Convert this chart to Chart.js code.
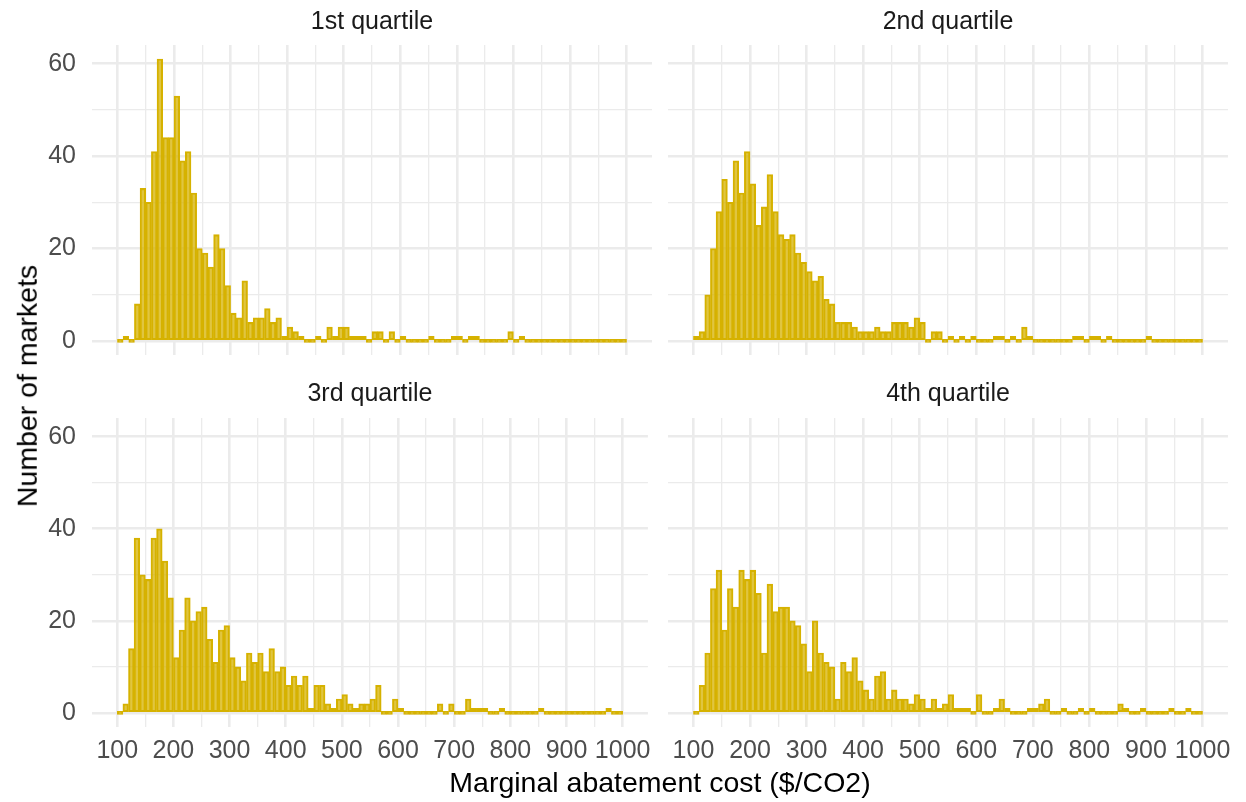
<!DOCTYPE html>
<html>
<head>
<meta charset="utf-8">
<title>Marginal abatement cost by quartile</title>
<script src="https://cdn.jsdelivr.net/npm/chart.js@4.4.0/dist/chart.umd.min.js"></script>
<style>
  html, body { margin: 0; padding: 0; background: #ffffff; }
  #wrap { position: relative; width: 1246px; height: 802px; overflow: hidden; font-family: "Liberation Sans", Arial, sans-serif; }
  canvas { position: absolute; }
  .axis-title { position: absolute; font-size: 28.5px; line-height: 1; color: #000000; white-space: nowrap; }
  #xTitle { left: 660px; top: 782px; transform: translate(-50%, -50%); }
  #yTitle { left: 27px; top: 386px; transform: translate(-50%, -50%) rotate(-90deg); }
</style>
</head>
<body>
<div id="wrap">
  <canvas id="q1" width="660" height="386" style="left:0px;top:0px"></canvas>
  <canvas id="q2" width="586" height="386" style="left:660px;top:0px"></canvas>
  <canvas id="q3" width="660" height="432" style="left:0px;top:370px"></canvas>
  <canvas id="q4" width="586" height="432" style="left:660px;top:370px"></canvas>
  <div class="axis-title" id="xTitle">Marginal abatement cost ($/CO2)</div>
  <div class="axis-title" id="yTitle">Number of markets</div>
</div>
<script>
// Histogrammes : nombre de marchés par classe de coût (largeur 10, de 100 à 1000)
const binStart = 100;
const binWidth = 10;

const panelTitles = ['1st quartile', '2nd quartile', '3rd quartile', '4th quartile'];

const countsQ1 = [
  0, 1, 0, 8, 33, 30, 41, 61, 44, 44,
  53, 39, 41, 32, 20, 19, 16, 23, 20, 12,
  6, 5, 13, 4, 5, 5, 7, 4, 5, 1,
  3, 2, 1, 0, 0, 1, 0, 3, 1, 3,
  3, 1, 1, 1, 0, 2, 2, 0, 2, 0,
  1, 0, 0, 0, 0, 1, 0, 0, 0, 1,
  1, 0, 1, 1, 0, 0, 0, 0, 0, 2,
  0, 1, 0, 0, 0, 0, 0, 0, 0, 0,
  0, 0, 0, 0, 0, 0, 0, 0, 0, 0
];

const countsQ2 = [
  1, 2, 10, 20, 28, 35, 30, 39, 32, 41,
  34, 25, 29, 36, 28, 23, 22, 23, 19, 17,
  15, 13, 14, 9, 8, 4, 4, 4, 3, 2,
  2, 2, 3, 2, 2, 4, 4, 4, 3, 5,
  4, 0, 2, 2, 0, 1, 0, 1, 0, 1,
  0, 0, 0, 1, 1, 0, 1, 0, 3, 1,
  0, 0, 0, 0, 0, 0, 0, 1, 1, 0,
  1, 1, 0, 1, 0, 0, 0, 0, 0, 0,
  1, 0, 0, 0, 0, 0, 0, 0, 0, 0
];

const countsQ3 = [
  0, 2, 14, 38, 30, 29, 38, 40, 33, 25,
  12, 18, 25, 20, 22, 23, 16, 11, 18, 19,
  12, 10, 7, 13, 11, 13, 9, 14, 9, 10,
  6, 8, 6, 8, 1, 6, 6, 2, 1, 3,
  4, 2, 1, 2, 2, 3, 6, 0, 0, 3,
  1, 0, 0, 0, 0, 0, 0, 2, 0, 2,
  0, 0, 3, 1, 1, 1, 0, 0, 1, 0,
  0, 0, 0, 0, 0, 1, 0, 0, 0, 0,
  0, 0, 0, 0, 0, 0, 0, 1, 0, 0
];

const countsQ4 = [
  0, 6, 13, 27, 31, 18, 27, 23, 31, 29,
  31, 26, 13, 28, 22, 23, 23, 20, 19, 15,
  9, 20, 13, 11, 10, 3, 11, 9, 12, 7,
  5, 3, 8, 9, 3, 5, 3, 3, 2, 4,
  3, 1, 3, 1, 2, 4, 1, 1, 1, 0,
  4, 0, 0, 1, 3, 1, 0, 0, 0, 1,
  1, 2, 3, 0, 0, 1, 0, 0, 1, 0,
  1, 0, 0, 0, 0, 2, 1, 0, 0, 1,
  0, 0, 0, 0, 1, 0, 0, 1, 0, 0
];

// Graduations et grilles
const xGrid = [100, 150, 200, 250, 300, 350, 400, 450, 500, 550, 600, 650, 700, 750, 800, 850, 900, 950, 1000];
const xLabelStep = 100;
const yGrid = [0, 10, 20, 30, 40, 50, 60];
const yLabelStep = 20;
const xRange = [55, 1045];
const yRange = [-3.05, 64.05];

const FONT = '"Liberation Sans", Arial, sans-serif';
const GRID_COLOR = '#EBEBEB';
const BAR_LINE = 'rgb(214, 178, 0)';
const BAR_FILL = 'rgba(214, 178, 0, 0.75)';

Chart.defaults.font.family = FONT;

function makePanel(canvasId, title, counts, cfg) {
  const ctx = document.getElementById(canvasId).getContext('2d');
  const points = counts.map((c, i) => ({ x: binStart + binWidth * (i + 0.5), y: c }));

  return new Chart(ctx, {
    type: 'bar',
    data: {
      datasets: [{
        data: points,
        backgroundColor: BAR_FILL,
        borderColor: BAR_LINE,
        borderWidth: 1.4,
        borderSkipped: false,
        barPercentage: 1,
        categoryPercentage: 1,
        minBarLength: 3
      }]
    },
    options: {
      responsive: false,
      animation: false,
      devicePixelRatio: 1,
      layout: { padding: cfg.padding },
      plugins: {
        legend: { display: false },
        tooltip: { enabled: false },
        title: {
          display: true,
          text: title,
          fullSize: false,
          color: '#1A1A1A',
          font: { family: FONT, size: 25, weight: 'normal', lineHeight: 1.2 },
          padding: cfg.titlePadding
        }
      },
      scales: {
        x: {
          type: 'linear',
          min: xRange[0],
          max: xRange[1],
          bounds: 'data',
          offset: false,
          afterBuildTicks: function(axis) {
            axis.ticks = xGrid.map(v => ({ value: v }));
          },
          afterFit: function(axis) {
            axis.height = cfg.xHeight;
          },
          grid: {
            offset: false,
            drawTicks: false,
            color: GRID_COLOR,
            lineWidth: c => (c.tick && c.tick.value % xLabelStep === 0) ? 2.6 : 1.3
          },
          border: { display: false },
          ticks: {
            display: cfg.showX,
            autoSkip: false,
            maxRotation: 0,
            minRotation: 0,
            padding: 9,
            color: '#4D4D4D',
            font: { family: FONT, size: 25, lineHeight: 1.2 },
            callback: v => (v % xLabelStep === 0) ? String(v) : ''
          }
        },
        y: {
          type: 'linear',
          min: yRange[0],
          max: yRange[1],
          bounds: 'data',
          afterBuildTicks: function(axis) {
            axis.ticks = yGrid.map(v => ({ value: v }));
          },
          afterFit: function(axis) {
            axis.width = cfg.yWidth;
          },
          grid: {
            drawTicks: false,
            color: GRID_COLOR,
            lineWidth: c => (c.tick && c.tick.value % yLabelStep === 0) ? 2.6 : 1.3
          },
          border: { display: false },
          ticks: {
            display: cfg.showY,
            autoSkip: false,
            padding: 16,
            color: '#4D4D4D',
            font: { family: FONT, size: 25, lineHeight: 1.2 },
            callback: v => (v % yLabelStep === 0) ? String(v) : ''
          }
        }
      }
    }
  });
}

document.addEventListener('DOMContentLoaded', function() {
  // Rangée du haut : pas d'étiquettes en x (marge basse pour le libellé "0")
  makePanel('q1', panelTitles[0], countsQ1, {
    padding: { left: 0, right: 8, top: 0, bottom: 31 },
    titlePadding: { top: 7, bottom: 8 },
    xHeight: 0, yWidth: 92, showX: false, showY: true
  });
  makePanel('q2', panelTitles[1], countsQ2, {
    padding: { left: 8, right: 18, top: 0, bottom: 31 },
    titlePadding: { top: 7, bottom: 8 },
    xHeight: 0, yWidth: 0, showX: false, showY: false
  });
  // Rangée du bas : étiquettes en x
  makePanel('q3', panelTitles[2], countsQ3, {
    padding: { left: 0, right: 8, top: 0, bottom: 0 },
    titlePadding: { top: 9, bottom: 9 },
    xHeight: 75, yWidth: 92, showX: true, showY: true
  });
  makePanel('q4', panelTitles[3], countsQ4, {
    padding: { left: 8, right: 18, top: 0, bottom: 0 },
    titlePadding: { top: 9, bottom: 9 },
    xHeight: 75, yWidth: 0, showX: true, showY: false
  });
});
</script>
</body>
</html>
